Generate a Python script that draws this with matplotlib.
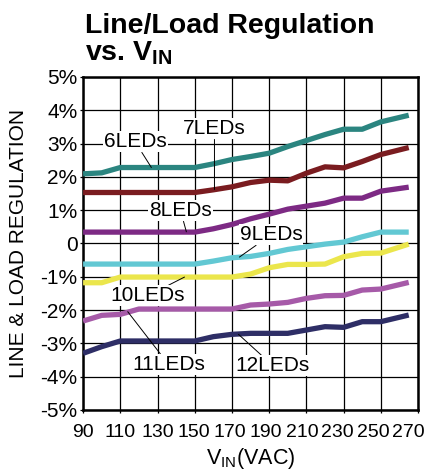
import matplotlib
matplotlib.use("Agg")
import matplotlib.pyplot as plt
from matplotlib.transforms import ScaledTranslation

plt.rcParams['font.family'] = ['Liberation Sans', 'DejaVu Sans']

# input voltage (VAC)
vin = [90, 100, 110, 120, 130, 140, 150, 160, 170, 180, 190, 200, 210, 220, 230, 240, 250, 265]

# regulation (%) per LED count
led6 = [2.09, 2.12, 2.28, 2.28, 2.28, 2.28, 2.28, 2.39, 2.52, 2.61, 2.71, 2.91, 3.09, 3.27, 3.43, 3.43, 3.65, 3.85]
led7 = [1.53, 1.53, 1.53, 1.53, 1.53, 1.53, 1.53, 1.61, 1.70, 1.83, 1.90, 1.88, 2.11, 2.30, 2.27, 2.46, 2.67, 2.88]
led8 = [0.34, 0.34, 0.34, 0.34, 0.34, 0.34, 0.34, 0.44, 0.57, 0.74, 0.88, 1.03, 1.12, 1.21, 1.36, 1.36, 1.57, 1.69]
led9 = [-0.62, -0.62, -0.62, -0.62, -0.62, -0.62, -0.62, -0.53, -0.43, -0.39, -0.30, -0.18, -0.10, -0.02, 0.04, 0.20, 0.34, 0.34]
led10 = [-1.18, -1.18, -1.01, -1.01, -1.01, -1.01, -1.01, -1.01, -1.01, -0.92, -0.73, -0.63, -0.63, -0.62, -0.40, -0.30, -0.29, -0.02]
led11 = [-2.33, -2.16, -2.13, -1.97, -1.97, -1.97, -1.97, -1.97, -1.97, -1.85, -1.82, -1.77, -1.65, -1.57, -1.56, -1.40, -1.37, -1.17]
led12 = [-3.30, -3.10, -2.93, -2.93, -2.93, -2.93, -2.93, -2.80, -2.73, -2.70, -2.70, -2.70, -2.60, -2.50, -2.52, -2.35, -2.35, -2.15]

xticks = [90, 110, 130, 150, 170, 190, 210, 230, 250, 270]
yticks = [-5, -4, -3, -2, -1, 0, 1, 2, 3, 4, 5]
ylabels = ['-5%', '-4%', '-3%', '-2%', '-1%', '0', '1%', '2%', '3%', '4%', '5%']

series = [
    (led6, '#2b8580', '6LEDs', (118, 3.05), (126.7, 2.28)),
    (led7, '#7a1c20', '7LEDs', (160.6, 3.44), (160.6, 1.62)),
    (led8, '#7d2a84', '8LEDs', (142.4, 0.98), (145.5, 0.35)),
    (led9, '#62c8d3', '9LEDs', (191, 0.26), (174, -0.41)),
    (led10, '#ebe64c', '10LEDs', (124.8, -1.57), (144.5, -1.01)),
    (led11, '#a65aa8', '11LEDs', (136, -3.64), (114, -2.05)),
    (led12, '#2e2e66', '12LEDs', (192, -3.67), (173.5, -2.73)),
]

fig = plt.figure(figsize=(4.35, 4.75), dpi=100)
ax = fig.add_axes([0.191, 0.137, 0.770, 0.701])

for vals, col, name, txt, tip in series:
    ax.plot(vin, vals, color=col, lw=3.8, solid_capstyle='butt', zorder=3)

for vals, col, name, txt, tip in series:
    ax.annotate(name, xy=tip, xytext=txt, fontsize=15, ha='center', va='center',
                bbox=dict(boxstyle='square,pad=0.05', fc='white', ec='none'),
                arrowprops=dict(arrowstyle='-', color='black', lw=0.7,
                                shrinkA=0, shrinkB=0), zorder=5)

ax.set_xlim(90, 270)
ax.set_ylim(-5, 5)
ax.set_xticks(xticks)
ax.set_yticks(yticks)
ax.set_yticklabels(ylabels)
ax.grid(True, color='black', lw=0.9)
ax.set_axisbelow(True)
ax.tick_params(axis='y', labelsize=15, length=2, width=0.9, pad=2)
ax.tick_params(axis='x', labelsize=14, length=2, width=0.9, pad=8)
for s in ax.spines.values():
    s.set_linewidth(1.8)

# the right-hand labels sit a bit to the left in the original
shifts = [0, 0, 0, -1, -2, -3, -4, -6, -8, -10]
for lab, dx in zip(ax.get_xticklabels(), shifts):
    lab.set_transform(lab.get_transform() + ScaledTranslation(dx / 100, 0, fig.dpi_scale_trans))

ax.set_xlabel('V$_{\\mathregular{IN}}$(VAC)', fontsize=15.5, labelpad=4)
ax.set_ylabel('LINE & LOAD REGULATION', fontsize=15)
ax.yaxis.set_label_coords(-0.165, 0.5)

fig.text(0.195, 0.973, 'Line/Load Regulation\nvs. V$_{\\mathregular{IN}}$',
         fontsize=20.5, fontweight='bold', ha='left', va='top', linespacing=1.0)

fig.savefig('out.png', dpi=100)
